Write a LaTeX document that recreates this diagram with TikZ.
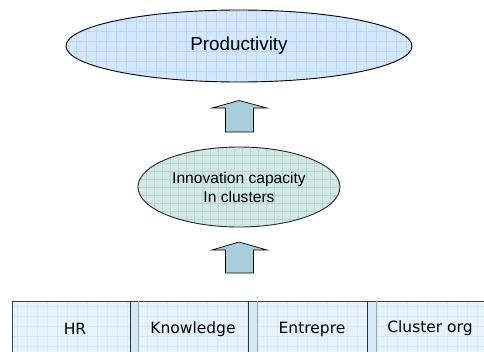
\documentclass[tikz,border=0pt]{standalone}
\usepackage{fontspec}
\setmainfont{Liberation Sans}
\newfontfamily\boxfont{DejaVu Sans}
\usetikzlibrary{shapes.geometric}
\definecolor{prodfill}{HTML}{D3E7FF}
\definecolor{prodgrid}{HTML}{B6D7FF}
\definecolor{innofill}{HTML}{D2E9E3}
\definecolor{innogrid}{HTML}{B3D7CE}
\definecolor{arrowfill}{HTML}{A8CEDC}
\definecolor{cellfill}{HTML}{E6F3FD}
\definecolor{cellgrid}{HTML}{D6EAF9}
\definecolor{stripfill}{HTML}{D3E9FA}
\tikzset{
  ovalnode/.style={ellipse, draw=black, line width=0.9pt, inner sep=0pt, outer sep=0pt, align=center},
  blockarrow/.style={draw=black, line width=0.7pt, fill=arrowfill, line join=miter},
  cellnode/.style={font=\boxfont\fontsize{15.5}{18}\selectfont, inner sep=0pt},
}
\begin{document}
\begin{tikzpicture}[x=1pt,y=-1pt]
\useasboundingbox (0,0) rectangle (484,351);
% ---- bottom cells ----
\fill[cellfill] (12,301) rectangle (490,356);
\begin{scope}
  \clip (12,301) rectangle (490,356);
  \foreach \gx in {17,27,...,487} \draw[cellgrid, line width=0.5pt] (\gx,301) -- (\gx,356);
  \foreach \gy in {306,316,...,356} \draw[cellgrid, line width=0.5pt] (12,\gy) -- (490,\gy);
\end{scope}
\fill[stripfill] (130,301) rectangle (138,356);
\fill[stripfill] (248,301) rectangle (257,356);
\fill[stripfill] (367,301) rectangle (376,356);
\draw[black!75, line width=0.9pt] (490,301) -- (12,301) -- (12,356);
\foreach \xa/\xb in {130/138, 248/257, 367/376}{
  \draw[black!80, line width=0.9pt] (\xa,301) -- (\xa,356);
  \draw[black!35, line width=0.6pt] (\xb,301) -- (\xb,356);
}
\node[cellnode] (hr) at (75,329) {HR};
\node[cellnode] (know) at (193,329) {Knowledge};
\node[cellnode] (entr) at (312,329) {Entrepre};
\node[cellnode] (clus) at (430,328) {Cluster org};
% ---- top ellipse ----
\begin{scope}
  \clip (239,46) ellipse [x radius=173, y radius=36];
  \fill[prodfill] (60,5) rectangle (420,90);
  \foreach \gx in {66,76,...,416} \draw[prodgrid, line width=0.6pt] (\gx,5) -- (\gx,90);
  \foreach \gy in {11,21,...,85} \draw[prodgrid, line width=0.6pt] (60,\gy) -- (420,\gy);
\end{scope}
\node[ovalnode, minimum width=346pt, minimum height=72pt, font=\fontsize{18.8}{22}\selectfont] (prod) at (239,46) {Productivity};
% ---- middle ellipse ----
\begin{scope}
  \clip (239,187) ellipse [x radius=101, y radius=40];
  \fill[innofill] (130,140) rectangle (350,230);
  \foreach \gx in {138,146,...,344} \draw[innogrid, line width=0.6pt] (\gx,140) -- (\gx,230);
  \foreach \gy in {147,155,...,230} \draw[innogrid, line width=0.6pt] (130,\gy) -- (350,\gy);
\end{scope}
\node[ovalnode, draw=black!85, minimum width=202pt, minimum height=80pt, font=\fontsize{15.6}{19}\selectfont] (inno) at (239,187) {Innovation capacity\\In clusters};
% ---- block arrows ----
\draw[blockarrow] (225.5,132) -- (225.5,108) -- (212,108) -- (239,100.5) -- (267,108) -- (253.5,108) -- (253.5,132) -- cycle;
\draw[blockarrow] (225.5,273) -- (225.5,250) -- (212,250) -- (239,242) -- (267,250) -- (253.5,250) -- (253.5,273) -- cycle;
\end{tikzpicture}
\end{document}
